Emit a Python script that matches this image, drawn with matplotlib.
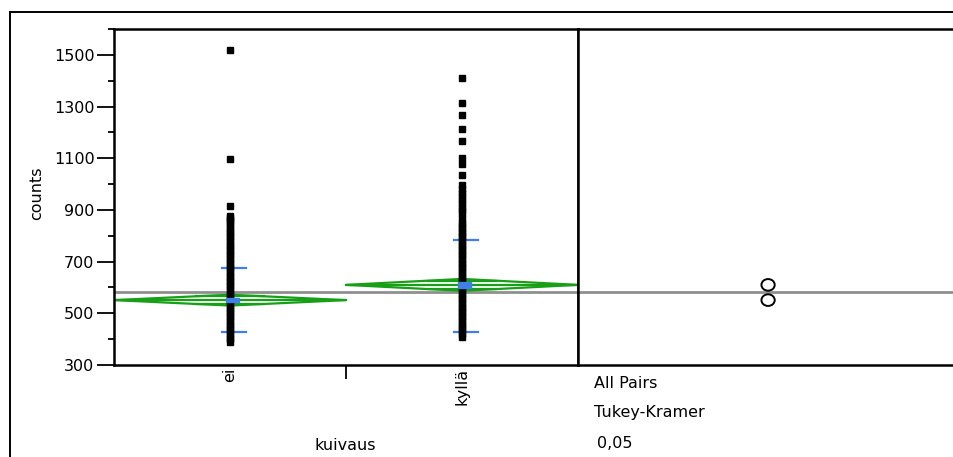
import numpy as np
import matplotlib.pyplot as plt
from matplotlib.patches import Polygon, Rectangle, Ellipse
from matplotlib.lines import Line2D

# counts per group (kuivaus = ei / kyllä)
groups = ["ei", "kyllä"]
ei_counts = [390, 400, 410, 420, 430, 440, 450, 460, 470, 480, 490, 500,
             510, 520, 530, 540, 550, 560, 570, 580, 590, 600, 610, 620,
             630, 640, 650, 660, 670, 680, 690, 700, 710, 720, 730, 740,
             750, 760, 770, 780, 790, 800, 810, 820, 830, 840, 852, 862,
             870, 877, 916, 1096, 1519]
kylla_counts = [410, 420, 430, 440, 450, 460, 470, 480, 490, 500, 510, 520,
                530, 540, 550, 560, 570, 580, 590, 600, 610, 620, 630, 640,
                650, 660, 670, 680, 690, 700, 710, 720, 730, 740, 750, 760,
                770, 780, 790, 800, 810, 820, 830, 842, 850, 868, 888, 900,
                912, 925, 940, 952, 965, 980, 997, 1036, 1077, 1100, 1167,
                1212, 1268, 1313, 1412]
group_means = [551, 610]
ci_half = [21, 23]          # 95% CI half-width of the mean
sd_low = [429, 429]
sd_high = [677, 784]
se_half = [9, 13]
grand_mean = 582
circle_radius = [22.5, 22.5]

green = "#17a017"
blue = "#3f7fe6"

plt.rcParams["font.family"] = ["DejaVu Sans"]
plt.rcParams["font.size"] = 11.5

W, H = 954, 457
fig = plt.figure(figsize=(W / 100, H / 100), dpi=100)


def frac(x0, y0, x1, y1):
    return [x0 / W, 1 - y1 / H, (x1 - x0) / W, (y1 - y0) / H]


ax = fig.add_axes(frac(114, 29, 578, 365))
ax2 = fig.add_axes(frac(578, 29, 962, 365), sharey=ax)

ylo, yhi = 300, 1600
ax.set_ylim(ylo, yhi)
ax.set_xlim(0, 2)
ax2.set_xlim(0, 1)

# grand mean across both panels
for a in (ax, ax2):
    a.axhline(grand_mean, color="#8f8f8f", lw=2, zorder=1)
    for s in a.spines.values():
        s.set_linewidth(1.8)

data = [ei_counts, kylla_counts]
for i, vals in enumerate(data):
    c = i + 0.5
    m, h = group_means[i], ci_half[i]
    # means diamond
    ax.add_patch(Polygon([(c - 0.5, m), (c, m + h), (c + 0.5, m), (c, m - h)],
                         closed=True, fill=False, ec=green, lw=1.6, zorder=2))
    ax.plot([c - 0.5, c + 0.5], [m, m], color=green, lw=1.6, zorder=2)
    ov = h / np.sqrt(2)
    hw = 0.5 * (1 - 1 / np.sqrt(2))
    for y in (m + ov, m - ov):
        ax.plot([c - hw, c + hw], [y, y], color=green, lw=1.6, zorder=2)
    # std dev lines
    for y in (sd_low[i], sd_high[i]):
        ax.plot([c - 0.035, c + 0.07], [y, y], color=blue, lw=1.6, zorder=3)
    # points
    ax.plot([c] * len(vals), vals, "s", color="black", ms=4.2, mec="black",
            zorder=4)
    # mean error bar
    ax.add_patch(Rectangle((c - 0.017, m - se_half[i]), 0.056,
                           2 * se_half[i], color=blue, zorder=5))

ax.set_xticks([1.0])
ax.set_xticklabels([""])
ax.set_xticks([0.5, 1.5], minor=True)
ax.set_xticklabels(groups, minor=True, rotation=90, va="top", ha="center")
ax.tick_params(axis="x", which="major", length=10, width=1.3, direction="out")
ax.tick_params(axis="x", which="minor", length=0, pad=2)

ax.set_yticks(range(300, 1600, 200))
ax.set_yticks(range(400, 1700, 200), minor=True)
ax.tick_params(axis="y", which="major", length=12, width=1.3, pad=2)
ax.tick_params(axis="y", which="minor", length=4, width=1.3)

ax2.tick_params(axis="both", which="both", length=0, labelleft=False,
                labelbottom=False)
ax2.set_xticks([])

# comparison circles, drawn round in pixel space
ypx = 336 / (yhi - ylo)
xpx = 384 / 1.0
for m, r in zip(group_means, circle_radius):
    ax2.add_patch(Ellipse((0.495, m), width=2 * r * ypx / xpx * 1.14,
                          height=2 * r, fill=False, ec="black", lw=1.4,
                          zorder=3))

fig.text(37 / W, 1 - 193 / H, "counts", rotation=90, ha="center",
         va="center")
fig.text(345 / W, 1 - 445 / H, "kuivaus", ha="center", va="center")
fig.text(594 / W, 1 - 383 / H, "All Pairs", ha="left", va="center")
fig.text(594 / W, 1 - 413 / H, "Tukey-Kramer", ha="left", va="center")
fig.text(597 / W, 1 - 443 / H, "0,05", ha="left", va="center")

# outer frame
fig.add_artist(Line2D([10 / W, 10 / W], [0, 1 - 12 / H], color="black",
                      lw=1.4, transform=fig.transFigure))
fig.add_artist(Line2D([10 / W, 1], [1 - 12 / H, 1 - 12 / H], color="black",
                      lw=1.4, transform=fig.transFigure))

fig.savefig("out.png", dpi=100)
